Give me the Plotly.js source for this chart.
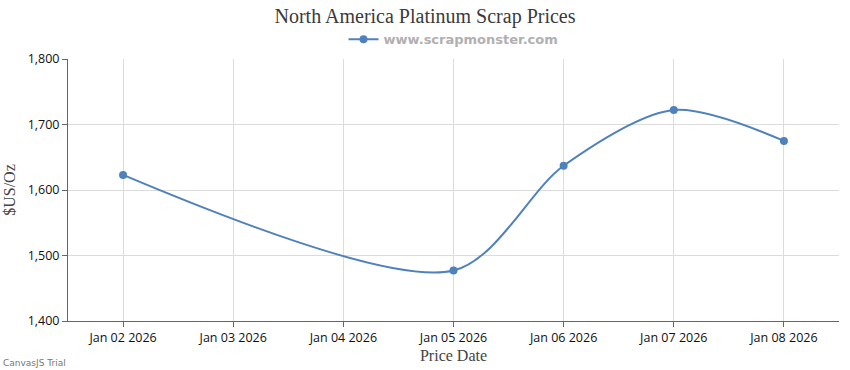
<!DOCTYPE html>
<html>
<head>
<meta charset="utf-8">
<script src="https://cdn.plot.ly/plotly-3.0.1.min.js"></script>
<style>html,body{margin:0;padding:0;background:#fff;}#chart{width:850px;height:370px;}</style>
</head>
<body>
<div id="chart"></div>
<script>
const dates = ["2026-01-02", "2026-01-05", "2026-01-06", "2026-01-07", "2026-01-08"];
const prices = [1623, 1477, 1637, 1722, 1675];
const seriesName = "www.scrapmonster.com";
const chartTitle = "North America Platinum Scrap Prices";
const xTitle = "Price Date";
const yTitle = "$US/Oz";

const trace = {
  x: dates, y: prices, name: seriesName,
  type: "scatter", mode: "lines+markers",
  line: {shape: "spline", smoothing: 0.85, color: "#4F81BC", width: 2},
  marker: {size: 8, color: "#4F81BC"},
  showlegend: true
};

const layout = {
  width: 850, height: 370,
  margin: {l: 68, r: 11, t: 59, b: 49},
  paper_bgcolor: "#fff", plot_bgcolor: "#fff",
  title: {text: chartTitle, x: 0.5, xanchor: "center", y: 0.957, yanchor: "middle",
    font: {family: "Liberation Serif, Times New Roman, serif", size: 20, color: "#3a3a3a"}},
  showlegend: true,
  legend: {orientation: "h", x: 0.5, xanchor: "center", y: 1.075, yanchor: "middle",
    font: {family: "DejaVu Sans, sans-serif", size: 13, color: "#b0b0b0", weight: "bold"},
    itemwidth: 30},
  xaxis: {
    type: "date",
    range: ["2026-01-01 12:00", "2026-01-08 12:00"],
    tick0: "2026-01-02", dtick: 86400000,
    tickformat: "%b %d %Y",
    showgrid: true, gridcolor: "#dcdcdc", gridwidth: 1,
    showline: true, linecolor: "#666", linewidth: 1,
    ticks: "outside", ticklen: 5, tickcolor: "#666",
    tickfont: {family: "Open Sans, DejaVu Sans, sans-serif", size: 12.5, color: "#111"},
    title: {text: xTitle, standoff: 4, font: {family: "Liberation Serif, serif", size: 16, color: "#444"}},
    zeroline: false, fixedrange: true
  },
  yaxis: {
    range: [1400, 1800], dtick: 100, tickformat: ",",
    showgrid: true, gridcolor: "#dcdcdc", gridwidth: 1,
    showline: true, linecolor: "#666", linewidth: 1,
    ticks: "outside", ticklen: 5, tickcolor: "#666",
    tickfont: {family: "Open Sans, DejaVu Sans, sans-serif", size: 12.5, color: "#111"},
    title: {text: yTitle, standoff: 8, font: {family: "Liberation Serif, serif", size: 16, color: "#444"}},
    zeroline: false, fixedrange: true
  },
  annotations: [{
    text: "CanvasJS Trial", xref: "paper", yref: "paper", x: -0.087, y: -0.16,
    xanchor: "left", yanchor: "middle", showarrow: false,
    font: {family: "DejaVu Sans, sans-serif", size: 9, color: "#777"}
  }]
};

Plotly.newPlot("chart", [trace], layout, {displayModeBar: false, staticPlot: true});
</script>
</body>
</html>
